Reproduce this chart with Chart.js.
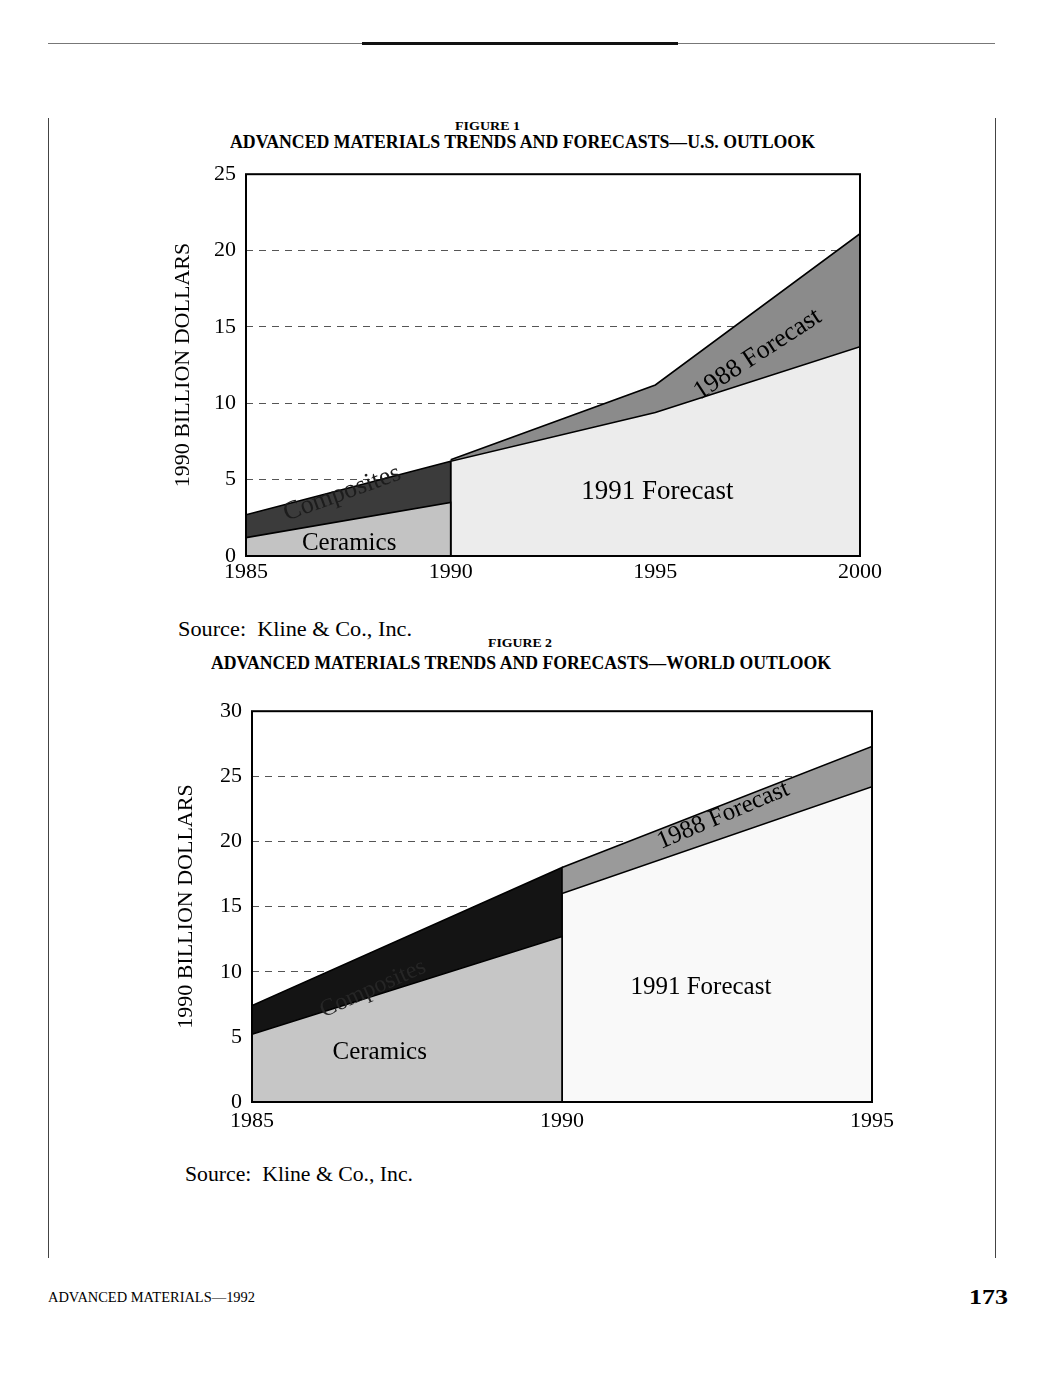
<!DOCTYPE html>
<html>
<head>
<meta charset="utf-8">
<script src="https://cdn.jsdelivr.net/npm/chart.js@4.4.1/dist/chart.umd.min.js"></script>
<style>
  body { margin: 0; background: #fff; }
  #page { position: relative; width: 1038px; height: 1380px; background: #fff; overflow: hidden; font-family: "Liberation Serif", "DejaVu Serif", serif; color: #000; }
  .abs { position: absolute; white-space: nowrap; }
  .fit { transform-origin: left center; }
  canvas { position: absolute; }
</style>
</head>
<body>
<div id="page">
  <div class="abs" style="left:48px; top:43px; width:947px; height:1px; background:#777;"></div>
  <div class="abs" style="left:362px; top:42px; width:316px; height:3px; background:#111;"></div>
  <div class="abs" style="left:48px; top:118px; width:1px; height:1140px; background:#444;"></div>
  <div class="abs" style="left:995px; top:118px; width:1px; height:1140px; background:#444;"></div>

  <div class="abs fit" data-w="65" style="left:455px; top:118px; font-size:13px; font-weight:bold;">FIGURE 1</div>
  <div class="abs fit" data-w="585" style="left:230px; top:131px; font-size:19px; font-weight:bold;">ADVANCED MATERIALS TRENDS AND FORECASTS—U.S. OUTLOOK</div>
  <canvas id="usChart" width="740" height="449" style="left:150px; top:151px;"></canvas>
  <div class="abs fit" data-w="234" style="left:178px; top:617px; font-size:21px;">Source:&nbsp; Kline &amp; Co., Inc.</div>

  <div class="abs fit" data-w="64" style="left:488px; top:635px; font-size:13px; font-weight:bold;">FIGURE 2</div>
  <div class="abs fit" data-w="620" style="left:211px; top:652px; font-size:19px; font-weight:bold;">ADVANCED MATERIALS TRENDS AND FORECASTS—WORLD OUTLOOK</div>
  <canvas id="worldChart" width="760" height="458" style="left:150px; top:688px;"></canvas>
  <div class="abs fit" data-w="228" style="left:185px; top:1162px; font-size:21px;">Source:&nbsp; Kline &amp; Co., Inc.</div>

  <div class="abs fit" data-w="207" style="left:48px; top:1290px; font-size:14px;">ADVANCED MATERIALS—1992</div>
  <div class="abs fit" data-w="39" style="left:969px; top:1286px; font-size:20px; font-weight:bold;">173</div>
</div>
<script>
// Figure 1 - U.S. outlook, billion 1990 dollars
const usYears = [1985, 1990, 1995, 2000];
const usCeramics = [1.2, 3.5];          // 1985, 1990
const usComposites = [2.7, 6.2];        // ceramics + composites, 1985, 1990
const us1991Forecast = [6.2, 9.4, 13.7]; // 1990, 1995, 2000
const us1988Forecast = [6.3, 11.2, 21.1];

// Figure 2 - world outlook
const worldYears = [1985, 1990, 1995];
const worldCeramics = [5.2, 12.7];
const worldComposites = [7.4, 18.0];
const world1991Forecast = [16.0, 24.2];
const world1988Forecast = [18.0, 27.3];

const SERIF = '"Liberation Serif", "DejaVu Serif", serif';

// text written inside the areas (data coordinates)
const usText = [
  { text: 'Ceramics', x: 1987.52, y: 0.8, angle: 0, size: 25, color: '#000' },
  { text: 'Composites', x: 1987.35, y: 4.1, angle: -20, size: 26, color: '#1c1c1c' },
  { text: '1991 Forecast', x: 1995.05, y: 4.2, angle: 0, size: 27, color: '#000' },
  { text: '1988 Forecast', x: 1997.5, y: 13.2, angle: -33, size: 26, color: '#000' }
];
const worldText = [
  { text: 'Ceramics', x: 1987.06, y: 3.8, angle: 0, size: 25, color: '#000' },
  { text: 'Composites', x: 1986.95, y: 8.7, angle: -24, size: 24, color: '#262626' },
  { text: '1991 Forecast', x: 1992.24, y: 8.8, angle: 0, size: 25, color: '#000' },
  { text: '1988 Forecast', x: 1992.6, y: 22.0, angle: -23, size: 25, color: '#000' }
];

// series that end at a year drop straight down to zero there
function toPoints(years, values, closeAtEnd, openAtStart) {
  var pts = [];
  if (openAtStart) pts.push({ x: years[0], y: 0 });
  values.forEach(function (v, i) { pts.push({ x: years[i], y: v }); });
  if (closeAtEnd) pts.push({ x: years[values.length - 1], y: 0 });
  return pts;
}

function areaText(items) {
  return {
    id: 'areaText',
    afterDatasetsDraw(chart) {
      const ctx = chart.ctx, x = chart.scales.x, y = chart.scales.y;
      items.forEach(function (it) {
        ctx.save();
        ctx.translate(x.getPixelForValue(it.x), y.getPixelForValue(it.y));
        ctx.rotate(it.angle * Math.PI / 180);
        ctx.font = it.size + 'px ' + SERIF;
        ctx.fillStyle = it.color;
        ctx.textAlign = 'center';
        ctx.textBaseline = 'middle';
        ctx.fillText(it.text, 0, 0);
        ctx.restore();
      });
    }
  };
}

const frame = {
  id: 'frame',
  afterDatasetsDraw(chart) {
    const a = chart.chartArea, ctx = chart.ctx;
    ctx.save();
    ctx.strokeStyle = '#000';
    ctx.lineWidth = 2;
    ctx.strokeRect(a.left, a.top, a.right - a.left, a.bottom - a.top);
    ctx.restore();
  }
};

function area(label, pts, color) {
  return {
    label: label,
    data: pts,
    fill: 'origin',
    backgroundColor: color,
    borderColor: '#000',
    borderWidth: 1.6,
    pointRadius: 0,
    tension: 0
  };
}

function makeChart(id, cfg) {
  const ctx = document.getElementById(id).getContext('2d');
  return new Chart(ctx, {
    type: 'line',
    data: {
      datasets: [
        area('Ceramics', cfg.ceramics, cfg.colors[0]),
        area('Composites', cfg.composites, cfg.colors[1]),
        area('1991 Forecast', cfg.f1991, cfg.colors[2]),
        area('1988 Forecast', cfg.f1988, cfg.colors[3])
      ]
    },
    options: {
      responsive: false,
      animation: false,
      layout: { padding: cfg.padding },
      plugins: { legend: { display: false }, tooltip: { enabled: false } },
      scales: {
        x: {
          type: 'linear',
          min: cfg.years[0],
          max: cfg.years[cfg.years.length - 1],
          grid: { display: false, drawTicks: false },
          border: { display: false },
          afterTickToLabelConversion: function (s) {
            s.ticks = cfg.years.map(function (v) { return { value: v, label: String(v) }; });
          },
          afterFit: function (s) { s.height = 44; },
          ticks: { color: '#000', padding: cfg.xPad, maxRotation: 0, font: { family: SERIF, size: 22 } }
        },
        y: {
          min: 0,
          max: cfg.yMax,
          afterFit: function (s) { s.width = cfg.yWidth; },
          grid: {
            drawTicks: false,
            lineWidth: 1,
            color: function (c) {
              return (c.tick && c.tick.value > 0 && c.tick.value < cfg.yMax) ? '#555' : 'rgba(0,0,0,0)';
            }
          },
          border: { display: false, dash: [7, 6] },
          ticks: { stepSize: 5, color: '#000', padding: 10, font: { family: SERIF, size: 22 } },
          title: {
            display: true,
            text: '1990 BILLION DOLLARS',
            color: '#000',
            padding: { top: cfg.titlePad, bottom: 0 },
            font: { family: SERIF, size: 22 }
          }
        }
      }
    },
    plugins: [areaText(cfg.text), frame]
  });
}

makeChart('usChart', {
  years: usYears,
  yMax: 25,
  yWidth: 76,
  titlePad: 0,
  xPad: 3,
  padding: { left: 20, right: 30, top: 14, bottom: 0 },
  ceramics: toPoints(usYears, usCeramics, true, false),
  composites: toPoints(usYears, usComposites, true, false),
  f1991: toPoints(usYears.slice(1), us1991Forecast, false, true),
  f1988: toPoints(usYears.slice(1), us1988Forecast, false, false),
  colors: ['#c3c3c3', '#3b3b3b', '#ececec', '#8b8b8b'],
  text: usText
});

makeChart('worldChart', {
  years: worldYears,
  yMax: 30,
  yWidth: 82,
  titlePad: 3,
  xPad: 6,
  padding: { left: 20, right: 38, top: 14, bottom: 0 },
  ceramics: toPoints(worldYears, worldCeramics, true, false),
  composites: toPoints(worldYears, worldComposites, true, false),
  f1991: toPoints(worldYears.slice(1), world1991Forecast, false, true),
  f1988: toPoints(worldYears.slice(1), world1988Forecast, false, false),
  colors: ['#c6c6c6', '#141414', '#f9f9f9', '#9a9a9a'],
  text: worldText
});

// squeeze the page texts to the widths of the printed ones
document.querySelectorAll('.fit').forEach(function (el) {
  var w = el.getBoundingClientRect().width;
  var target = parseFloat(el.getAttribute('data-w'));
  if (w > 0) el.style.transform = 'scaleX(' + (target / w) + ')';
});
</script>
</body>
</html>
